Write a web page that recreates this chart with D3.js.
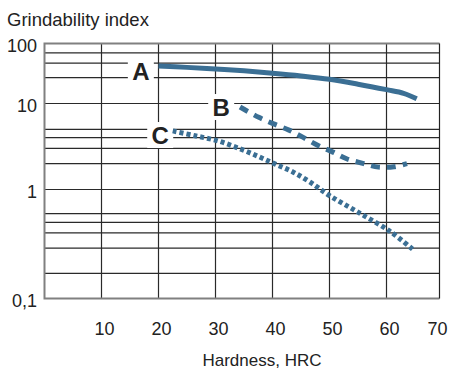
<!DOCTYPE html>
<html>
<head>
<meta charset="utf-8">
<script src="https://cdnjs.cloudflare.com/ajax/libs/d3/7.8.5/d3.min.js"></script>
<style>
  body { margin: 0; background: #fff; }
  text { font-family: "Liberation Sans", Arial, sans-serif; fill: #222; }
</style>
</head>
<body>
<div id="chart"></div>
<script>
var canvasWidth = 453;
var canvasHeight = 372;

/*Data*/
var hardnessA = [20, 25, 30, 35, 40, 45, 50, 55, 60, 63, 65.3];
var indexA = [42, 40, 37.5, 35, 32, 28.8, 25.3, 21, 17, 14.8, 12];

var hardnessB = [34.3, 37.6, 40.2, 42.9, 45.3, 48, 50.6, 53, 56, 58.6, 61.3, 63.6];
var indexB = [9.1, 6.9, 5.8, 4.9, 4.06, 3.25, 2.72, 2.28, 2.0, 1.82, 1.84, 2.0];

var hardnessC = [22.5, 26.4, 30.5, 34.1, 37.6, 40.6, 43.5, 46.5, 50, 55, 60.7, 64.7];
var indexC = [4.8, 4.22, 3.66, 3.01, 2.41, 1.96, 1.61, 1.23, 0.88, 0.62, 0.41, 0.28];

var curveNames = ["A", "B", "C"];
var labelHardness = [16.9, 31, 20.3];
var labelIndex = [34.8, 9.1, 4.3];

var xTicks = [10, 20, 30, 40, 50, 60, 70];
var yTicks = [100, 10, 1, 0.1];
var yTickLabels = ["100", "10", "1", "0,1"];
var yGrid = [70, 47, 27, 10, 5, 4, 3, 2, 1, 0.6, 0.5, 0.4, 0.29, 0.17];

/*Plot frame*/
var plotLeft = 44.5, plotRight = 439.5, plotTop = 43.5, plotBottom = 298.5;

var svg = d3.select("#chart").append("svg")
    .attr("width", canvasWidth)
    .attr("height", canvasHeight);

/*Scales (the printed log axis has uneven decades)*/
var xScale = d3.scaleLinear().domain([0, 70]).range([plotLeft, plotLeft + 399]);
var yScale = d3.scaleLog().domain([0.1, 1, 10, 100]).range([plotBottom, 189.5, 103.5, plotTop]);

/*Horizontal grid*/
svg.append("g").selectAll("line")
    .data(yGrid)
    .join("line")
    .attr("x1", plotLeft).attr("x2", plotRight)
    .attr("y1", function (d) { return yScale(d); })
    .attr("y2", function (d) { return yScale(d); })
    .attr("stroke", "#2a2a2a")
    .attr("stroke-width", 1.2);

/*Vertical grid*/
svg.append("g").selectAll("line")
    .data(xTicks.filter(function (d) { return xScale(d) < plotRight; }))
    .join("line")
    .attr("x1", function (d) { return xScale(d); })
    .attr("x2", function (d) { return xScale(d); })
    .attr("y1", plotTop).attr("y2", plotBottom)
    .attr("stroke", "#2a2a2a")
    .attr("stroke-width", 1.2);

/*Frame*/
svg.append("path")
    .attr("d", "M" + plotRight + "," + plotTop + "H" + plotLeft + "V" + plotBottom + "H" + plotRight)
    .attr("fill", "none")
    .attr("stroke", "#808080")
    .attr("stroke-width", 2);
svg.append("line")
    .attr("x1", plotRight).attr("x2", plotRight)
    .attr("y1", plotTop).attr("y2", plotBottom)
    .attr("stroke", "#222")
    .attr("stroke-width", 1.2);

/*Tick labels*/
svg.append("g").selectAll("text")
    .data(xTicks)
    .join("text")
    .attr("x", function (d) { return Math.min(xScale(d) + 3, plotRight - 2); })
    .attr("y", 335)
    .attr("text-anchor", "middle")
    .attr("font-size", 18)
    .text(function (d) { return d; });

svg.append("g").selectAll("text")
    .data(yTicks)
    .join("text")
    .attr("x", 37)
    .attr("y", function (d) { return yScale(d) + 2.5; })
    .attr("dy", "0.35em")
    .attr("text-anchor", "end")
    .attr("font-size", 18)
    .text(function (d, i) { return yTickLabels[i]; });

/*Titles*/
svg.append("text")
    .attr("x", 7)
    .attr("y", 26)
    .attr("font-size", 18.5)
    .text("Grindability index");

svg.append("text")
    .attr("x", 262)
    .attr("y", 366)
    .attr("text-anchor", "middle")
    .attr("font-size", 17)
    .text("Hardness, HRC");

/*Curve labels on white boxes*/
var labels = svg.append("g").selectAll("g")
    .data(curveNames)
    .join("g")
    .attr("transform", function (d, i) {
        return "translate(" + xScale(labelHardness[i]) + "," + yScale(labelIndex[i]) + ")";
    });
labels.append("rect")
    .attr("x", -13).attr("y", -13)
    .attr("width", 26).attr("height", 26)
    .attr("fill", "#fff");
labels.append("text")
    .attr("text-anchor", "middle")
    .attr("dy", "0.36em")
    .attr("font-size", 24)
    .attr("font-weight", "bold")
    .text(function (d) { return d; });

/*Curves*/
var line = d3.line()
    .x(function (d) { return xScale(d[0]); })
    .y(function (d) { return yScale(d[1]); })
    .curve(d3.curveCatmullRom.alpha(0.5));

var series = [
    {x: hardnessA, y: indexA, dash: null},
    {x: hardnessB, y: indexB, dash: "9,7"},
    {x: hardnessC, y: indexC, dash: "4,3"}
];

svg.append("g").selectAll("path")
    .data(series)
    .join("path")
    .attr("fill", "none")
    .attr("stroke", "#3b6f94")
    .attr("stroke-width", 5)
    .attr("stroke-dasharray", function (d) { return d.dash; })
    .attr("d", function (d) {
        return line(d.x.map(function (v, i) { return [v, d.y[i]]; }));
    });
</script>
</body>
</html>
